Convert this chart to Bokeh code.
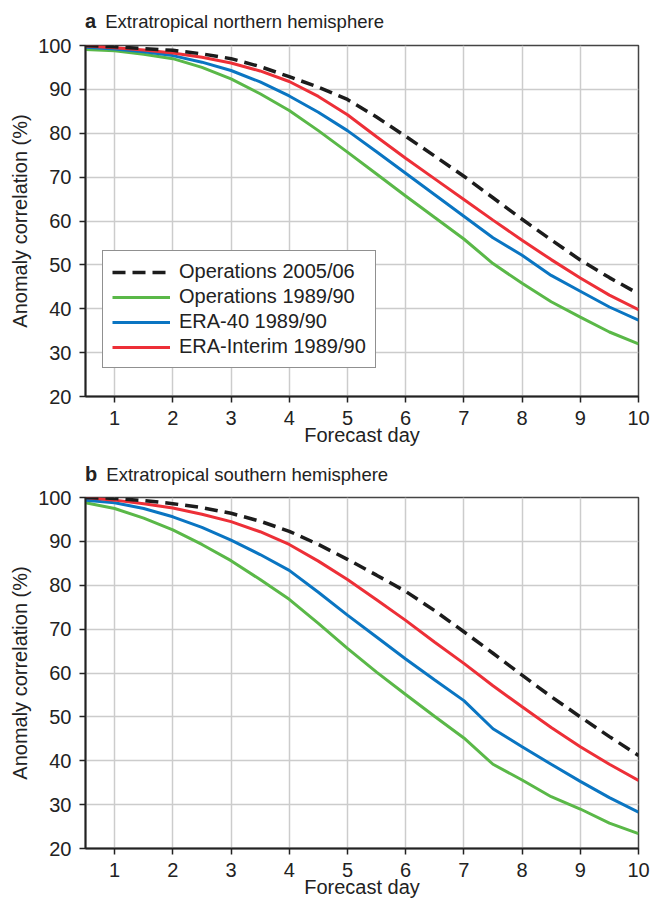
from bokeh.plotting import figure
from bokeh.layouts import column
from bokeh.models import Legend, LegendItem, FixedTicker, Range1d, Div
from bokeh.embed import file_html
from bokeh.resources import INLINE

days = [0.5, 1.0, 1.5, 2.0, 2.5, 3.0, 3.5, 4.0, 4.5, 5.0,
        5.5, 6.0, 6.5, 7.0, 7.5, 8.0, 8.5, 9.0, 9.5, 10.0]
x_ticks = [1, 2, 3, 4, 5, 6, 7, 8, 9, 10]
y_ticks = [20, 30, 40, 50, 60, 70, 80, 90, 100]

series_names = ["Operations 2005/06", "Operations 1989/90", "ERA-40 1989/90", "ERA-Interim 1989/90"]

# Panel a: extratropical northern hemisphere
nh_ops0506 = [100.0, 99.7, 99.3, 98.9, 98.1, 97.0, 95.2, 92.9, 90.5, 87.7,
              83.7, 79.3, 74.8, 70.2, 65.3, 60.4, 55.7, 51.1, 47.1, 43.4]
nh_ops8990 = [99.1, 98.8, 98.0, 97.0, 95.0, 92.4, 89.0, 85.2, 80.6, 75.7,
              70.7, 65.7, 60.8, 55.9, 50.3, 45.8, 41.6, 38.1, 34.7, 32.0]
nh_era40 = [99.6, 99.2, 98.6, 97.7, 96.2, 94.3, 91.7, 88.5, 84.8, 80.6,
            75.8, 70.9, 66.0, 61.1, 56.2, 52.2, 47.6, 44.0, 40.4, 37.4]
nh_erai = [99.9, 99.5, 99.0, 98.3, 97.3, 96.0, 94.2, 91.8, 88.4, 84.2,
           79.2, 74.3, 69.6, 64.9, 60.2, 55.6, 51.2, 47.0, 43.1, 39.8]

# Panel b: extratropical southern hemisphere
sh_ops0506 = [100.0, 99.8, 99.3, 98.6, 97.7, 96.4, 94.6, 92.3, 89.3, 85.9,
              82.3, 78.6, 74.2, 69.4, 64.5, 59.5, 54.6, 50.0, 45.5, 41.2]
sh_ops8990 = [98.8, 97.5, 95.3, 92.6, 89.3, 85.6, 81.3, 76.8, 71.3, 65.6,
              60.2, 55.1, 50.1, 45.2, 39.2, 35.6, 31.8, 29.0, 25.8, 23.4]
sh_era40 = [99.4, 98.8, 97.5, 95.6, 93.2, 90.3, 87.0, 83.4, 78.4, 73.2,
            68.2, 63.2, 58.4, 53.7, 47.3, 43.2, 39.2, 35.3, 31.6, 28.3]
sh_erai = [100.0, 99.4, 98.6, 97.6, 96.2, 94.5, 92.2, 89.3, 85.5, 81.3,
           76.7, 72.0, 67.0, 62.2, 57.1, 52.3, 47.6, 43.2, 39.2, 35.5]

FONT = "Liberation Sans"
TXT = "#222222"
COL_BLACK = "#1c1c1c"
COL_GREEN = "#5ab848"
COL_BLUE = "#0a75c2"
COL_RED = "#ed2f37"


def make_title(letter, title, height, pad_top):
    html = ('<div style="font-family:\'Liberation Sans\';font-size:18.5px;line-height:18.5px;'
            'color:%s;padding-top:%dpx;padding-left:85px;white-space:nowrap;margin:0">'
            '<b style="font-size:20px;margin-right:4px">%s</b> %s</div>'
            % (TXT, pad_top, letter, title))
    return Div(text=html, width=653, height=height,
               styles={"margin": "0", "padding": "0", "overflow": "visible"})


def make_panel(ops0506, ops8990, era40, erai, with_legend):
    p = figure(frame_width=553, frame_height=351,
               x_range=Range1d(0.5, 10), y_range=Range1d(20, 100),
               output_backend="svg", toolbar_location=None,
               min_border_left=85, min_border_right=15,
               min_border_top=11, min_border_bottom=0)
    p.background_fill_color = "white"
    p.border_fill_color = "white"
    p.outline_line_color = "#444444"
    p.outline_line_width = 1.5

    p.xaxis.ticker = FixedTicker(ticks=x_ticks)
    p.yaxis.ticker = FixedTicker(ticks=y_ticks)
    p.xgrid.ticker = FixedTicker(ticks=x_ticks)
    p.ygrid.ticker = FixedTicker(ticks=y_ticks)
    for g in (p.xgrid, p.ygrid):
        g.grid_line_color = "#cccccc"
        g.grid_line_width = 1.5

    for ax in (p.xaxis, p.yaxis):
        ax.axis_line_color = TXT
        ax.axis_line_width = 2
        ax.major_tick_line_color = TXT
        ax.major_tick_line_width = 1.5
        ax.major_tick_out = 6
        ax.major_tick_in = 0
        ax.minor_tick_line_color = None
        ax.major_label_text_font = FONT
        ax.major_label_text_font_size = "20px"
        ax.major_label_text_color = TXT
        ax.axis_label_text_font = FONT
        ax.axis_label_text_font_size = "20px"
        ax.axis_label_text_font_style = "normal"
        ax.axis_label_text_color = TXT
    p.xaxis.axis_label = "Forecast day"
    p.yaxis.axis_label = "Anomaly correlation (%)"
    p.xaxis.major_label_standoff = 8
    p.xaxis.axis_label_standoff = -4
    p.yaxis.major_label_standoff = 8
    p.yaxis.axis_label_standoff = 4

    r_green = p.line(days, ops8990, line_color=COL_GREEN, line_width=3)
    r_blue = p.line(days, era40, line_color=COL_BLUE, line_width=3)
    r_red = p.line(days, erai, line_color=COL_RED, line_width=3)
    r_black = p.line(days, ops0506, line_color=COL_BLACK, line_width=3.5, line_dash="13 7")

    if with_legend:
        legend = Legend(items=[
            LegendItem(label=series_names[0], renderers=[r_black]),
            LegendItem(label=series_names[1], renderers=[r_green]),
            LegendItem(label=series_names[2], renderers=[r_blue]),
            LegendItem(label=series_names[3], renderers=[r_red]),
        ], location=(17, 28))
        legend.border_line_color = TXT
        legend.border_line_width = 1.5
        legend.background_fill_color = "white"
        legend.background_fill_alpha = 1
        legend.label_text_font = FONT
        legend.label_text_font_size = "20px"
        legend.label_text_color = TXT
        legend.glyph_width = 58
        legend.glyph_height = 20
        legend.label_height = 20
        legend.label_standoff = 9
        legend.spacing = 2
        legend.padding = 9
        legend.margin = 0
        p.add_layout(legend)
    return p


ta = make_title("a", "Extratropical northern hemisphere", 34, 12)
pa = make_panel(nh_ops0506, nh_ops8990, nh_era40, nh_erai, True)
tb = make_title("b", "Extratropical southern hemisphere", 38, 17)
pb = make_panel(sh_ops0506, sh_ops8990, sh_era40, sh_erai, False)

layout = column(ta, pa, tb, pb, spacing=0)
open("out.html", "w").write(file_html(layout, INLINE))
